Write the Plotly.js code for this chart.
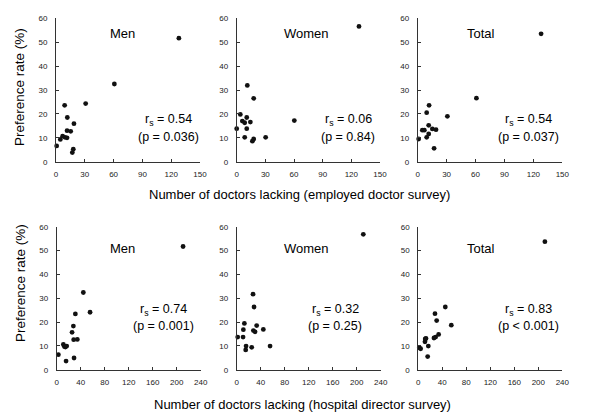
<!DOCTYPE html>
<html>
<head>
<meta charset="utf-8">
<script src="https://cdn.plot.ly/plotly-3.0.1.min.js"></script>
<style>html,body{margin:0;padding:0;background:#fff;}#chart{width:600px;height:418px;}</style>
</head>
<body>
<div id="chart"></div>
<script>
// Top row: employed doctor survey
const empMenX   = [0.7, 4.5, 6.9, 9.4, 11.5, 9.0, 11.8, 11.5, 15.3, 18.7, 17.0, 18.0, 30.9, 60.8, 128];
const empMenY   = [6.6, 9.3, 10.7, 10.2, 10.0, 23.6, 18.5, 13.0, 12.7, 15.9, 3.8, 5.2, 24.3, 32.5, 51.7];
const empWomenX = [0.0, 3.8, 5.9, 8.4, 10.5, 14.3, 10.5, 8.4, 11.1, 17.8, 16.4, 17.8, 30.3, 60.3, 128];
const empWomenY = [13.8, 19.8, 17.0, 16.3, 18.5, 16.6, 13.8, 10.2, 31.9, 26.5, 8.6, 9.5, 10.2, 17.2, 56.6];
const empTotalX = [1.0, 4.8, 6.9, 11.4, 9.3, 11.8, 9.3, 11.4, 15.2, 19.0, 17.0, 30.8, 60.9, 128];
const empTotalY = [9.5, 13.2, 13.2, 15.2, 20.5, 23.6, 10.2, 11.6, 13.7, 13.4, 5.6, 19.0, 26.6, 53.5];
// Bottom row: hospital director survey
const hosMenX   = [2.8, 11.1, 12.8, 14.5, 16.7, 15.6, 25.6, 27.8, 28.3, 34.4, 28.9, 31.1, 44.4, 55.6, 210.6];
const hosMenY   = [6.3, 10.6, 9.7, 9.5, 9.9, 3.6, 15.7, 18.3, 12.6, 12.7, 4.9, 23.4, 32.4, 24.1, 51.7];
const hosWomenX = [1.7, 10.6, 11.1, 12.8, 15.6, 15.0, 25.0, 27.8, 30.6, 33.3, 44.4, 28.9, 27.2, 55.6, 211];
const hosWomenY = [13.7, 13.7, 16.8, 19.4, 9.9, 8.3, 9.4, 16.4, 15.9, 18.5, 16.9, 26.3, 31.7, 9.9, 56.8];
const hosTotalX = [1.7, 3.9, 11.1, 12.8, 11.5, 16.7, 15.6, 26.1, 28.9, 33.9, 30.6, 27.8, 45.0, 55.0, 211];
const hosTotalY = [9.2, 8.8, 11.7, 13.1, 12.9, 9.9, 5.5, 13.3, 13.7, 14.8, 20.6, 23.5, 26.3, 18.7, 53.7];

const panelTitles = ["Men", "Women", "Total", "Men", "Women", "Total"];
const rsLabels = ["0.54", "0.06", "0.54", "0.74", "0.32", "0.83"];
const pLabels = ["(p = 0.036)", "(p = 0.84)", "(p = 0.037)", "(p = 0.001)", "(p = 0.25)", "(p < 0.001)"];
const xTitles = ["Number of doctors lacking (employed doctor survey)", "Number of doctors lacking (hospital director survey)"];
const yTitle = "Preference rate (%)";

const W = 600, H = 418;
const FONT = "Liberation Sans, Arial, sans-serif";
const xs = [empMenX, empWomenX, empTotalX, hosMenX, hosWomenX, hosTotalX];
const ys = [empMenY, empWomenY, empTotalY, hosMenY, hosWomenY, hosTotalY];

const xPix = [[56, 200], [236.7, 380], [417.7, 562.3], [56.7, 200.7], [236.7, 380.7], [418.3, 562.3]];
const yPix = [[18.3, 161.7], [226.7, 369.7]];

const data = [];
const layout = {
  width: W, height: H,
  margin: {l: 0, r: 0, t: 0, b: 0},
  paper_bgcolor: "#fff", plot_bgcolor: "#fff",
  showlegend: false,
  font: {family: FONT, color: "#000"},
  annotations: []
};

for (let i = 0; i < 6; i++) {
  const n = i + 1;
  const row = i < 3 ? 0 : 1;
  data.push({
    type: "scatter", mode: "markers",
    x: xs[i], y: ys[i],
    xaxis: "x" + (n === 1 ? "" : n), yaxis: "y" + (n === 1 ? "" : n),
    marker: {color: "#111", size: 4.8},
    cliponaxis: false, hoverinfo: "skip"
  });
  const xa = {
    domain: [xPix[i][0] / W, xPix[i][1] / W],
    range: row === 0 ? [0, 150] : [0, 240],
    dtick: row === 0 ? 30 : 40, tick0: 0,
    showgrid: false, zeroline: false,
    showline: true, linecolor: "#333", linewidth: 1,
    ticks: "inside", ticklen: 3, tickcolor: "#333",
    tickfont: {size: 8, color: "#222", family: FONT},
    ticklabelstandoff: 5,
    anchor: "y" + (n === 1 ? "" : n), fixedrange: true
  };
  const ya = {
    domain: [1 - yPix[row][1] / H, 1 - yPix[row][0] / H],
    range: [0, 60], dtick: 10, tick0: 0,
    showgrid: false, zeroline: false,
    showline: true, linecolor: "#333", linewidth: 1,
    ticks: "inside", ticklen: 3, tickcolor: "#333",
    tickfont: {size: 8, color: "#222", family: FONT},
    ticklabelstandoff: 6,
    anchor: "x" + (n === 1 ? "" : n), fixedrange: true
  };
  layout["xaxis" + (n === 1 ? "" : n)] = xa;
  layout["yaxis" + (n === 1 ? "" : n)] = ya;
}

function ann(text, px, py, size, extra) {
  return Object.assign({
    text: text, xref: "paper", yref: "paper",
    x: px / W, y: 1 - py / H, xanchor: "center", yanchor: "middle",
    showarrow: false, font: {size: size, family: FONT, color: "#000"}
  }, extra || {});
}

const titlePos = [[123, 33], [306, 33], [481, 33], [123, 248], [306, 248], [481, 248]];
const rsPos = [[168, 120], [348, 120], [528, 120], [163, 310], [335, 310], [528, 310]];
const pPos = [[168, 137], [348, 137], [528, 137], [163, 326], [335, 326], [528, 326]];
for (let i = 0; i < 6; i++) {
  layout.annotations.push(ann(panelTitles[i], titlePos[i][0], titlePos[i][1], 13));
  layout.annotations.push(ann("r<sub>s</sub> = " + rsLabels[i], rsPos[i][0], rsPos[i][1], 12.5));
  layout.annotations.push(ann(pLabels[i], pPos[i][0], pPos[i][1], 12.5));
}
layout.annotations.push(ann(xTitles[0], 299, 194, 13));
layout.annotations.push(ann(xTitles[1], 302, 404, 13));
layout.annotations.push(ann(yTitle, 19, 87, 13.5, {textangle: -90}));
layout.annotations.push(ann(yTitle, 20, 283, 13.5, {textangle: -90}));

Plotly.newPlot("chart", data, layout, {staticPlot: true, displayModeBar: false});
</script>
</body>
</html>
